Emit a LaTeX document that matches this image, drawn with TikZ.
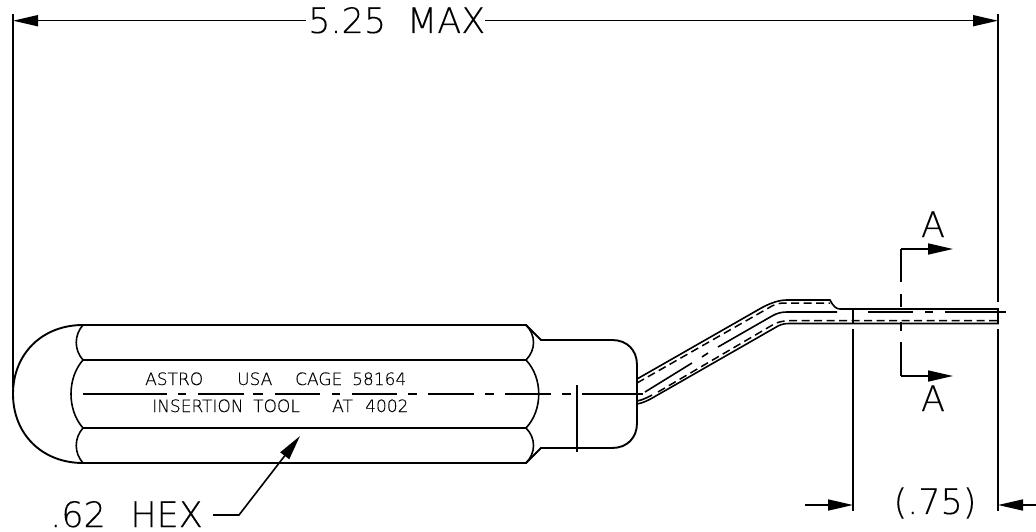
\documentclass[tikz,border=0pt]{standalone}
\usepackage{fontspec}
\setmainfont[FakeBold=0.25]{DejaVu Sans ExtraLight}
\newfontfamily\cadbig[FakeBold=0.2]{DejaVu Sans ExtraLight}
\usetikzlibrary{arrows.meta}
\tikzset{
  obj/.style={line width=1.9pt,black},
  thin obj/.style={line width=1.6pt,black},
  hid/.style={line width=1.5pt,black,dash pattern=on 8pt off 4.5pt},
  dim/.style={line width=1.6pt,black,{Triangle[length=25pt,width=11pt]}-},
  big/.style={inner sep=0pt,font=\cadbig\fontsize{35}{36}\selectfont},
  small/.style={inner sep=0pt,font=\fontsize{17}{18}\selectfont},
}
\begin{document}
\begin{tikzpicture}[x=1pt,y=-1pt]
\useasboundingbox (0,0) rectangle (1036,532);
% Handle outline
\draw[obj] (83,325) -- (526,325) -- (541,340) -- (612,340)
  .. controls (627,340) and (637,350) .. (637,365) -- (637,423)
  .. controls (637,438) and (627,448) .. (612,448) -- (541,448) -- (526,463) -- (83,463)
  .. controls (42,463) and (13,434) .. (13,394)
  .. controls (13,354) and (42,325) .. (83,325);
\draw[obj] (83,360) -- (526,360) (83,428) -- (526,428);
\foreach \a/\b/\c in {325/342.5/360,428/445.5/463}{
  \draw[thin obj] (83,\a) .. controls (74,\a+10) and (74,\c-10) .. (83,\c);
  \draw[thin obj] (526,\a) .. controls (536,\a+10) and (536,\c-10) .. (526,\c);
}
\draw[thin obj] (83,360) .. controls (67,378) and (67,410) .. (83,428);
\draw[thin obj] (526,360) .. controls (543,378) and (543,410) .. (526,428);
\draw[thin obj] (577,385) -- (577,452);
% Centre line
\foreach \a/\b in {83/167,178/186,198/244,253/263,275/320,332/340,352/397,408/417,428/474,485/494,505/551,562/571,582/643}{
  \draw[thin obj] (\a,394) -- (\b,394);
}
% Neck solids
\draw[thin obj] (637,379) -- (763,307) .. controls (771,303) and (779,300) .. (787,300) -- (830,300)
  .. controls (833,306) and (836,309) .. (840,309) -- (998,309) -- (998,323.5) -- (790,323.5)
  .. controls (785,323.5) and (782,324) .. (778,326) -- (654,397) .. controls (649,400) and (643,403) .. (637,404);
\draw[thin obj] (637,401) .. controls (643,400) and (648,397) .. (652,395);
% Neck centre
\draw[thin obj] (645,392) -- (692,363) (702,357) -- (708,353) (718,347) -- (772,316)
  .. controls (777,313) and (782,312) .. (787,312) -- (837,312);
\draw[thin obj] (868,312) -- (913,312) (925,312) -- (933,312) (945,312) -- (1006,312);
% Neck hidden
\draw[hid] (637,383) -- (772,306) .. controls (776,304) and (780,303) .. (784,303) -- (830,303);
\draw[hid] (658,392) -- (775,323.5) .. controls (780,321.5) and (785,320.7) .. (790,320.7) -- (998,320.7);
% Shoulder tick
\draw[line width=2.2pt] (853,309) -- (853,323.5);
% Section line
\draw[thin obj] (901,282) -- (901,249);
\draw[dim] (953,249) -- (901,249);
\draw[thin obj] (901,294) -- (901,307) (901,322) -- (901,331);
\draw[thin obj] (901,342) -- (901,376);
\draw[dim] (953,376) -- (901,376);
\node[big,anchor=base] (secA) at (933,237) {A};
\node[big,anchor=base] (secB) at (933,411) {A};
% Extension lines
\draw[thin obj] (13,14) -- (13,388);
\draw[thin obj] (998,14) -- (998,302);
\draw[thin obj] (998,329) -- (998,511);
\draw[thin obj] (853,329) -- (853,511);
% Top dimension
\node[big,anchor=base west] (top) at (308,33) {5.25\hspace{0.6em}MAX};
\coordinate (tl) at (13,20.7);
\coordinate (tr) at (998,20.7);
\coordinate (tla) at (306,20.7);
\coordinate (tra) at (485,20.7);
\draw[dim] (tl) -- (tla);
\draw[dim] (tr) -- (tra);
% Bottom dimension
\node[big] (ext) at (935,503) {(.75)};
\coordinate (el) at (853,505);
\coordinate (er) at (998,505);
\coordinate (eL) at (805,505);
\coordinate (eR) at (1036,505);
\draw[dim] (el) -- (eL);
\draw[dim] (er) -- (eR);
% Hex leader
\node[big,anchor=base west] (hex) at (50,527) {.62\hspace{0.7em}HEX};
\coordinate (ht) at (300,436);
\coordinate (hm) at (239,515);
\coordinate (hs) at (213,515);
\draw[line width=1.6pt,black,{Triangle[length=25pt,width=11pt]}-] (ht) -- (hm) -- (hs);
% Handle text
\node[small,anchor=base west] (t1) at (145,385) {ASTRO};
\node[small,anchor=base west] (t2) at (237,385) {USA};
\node[small,anchor=base west] (t3) at (295,385) {CAGE};
\node[small,anchor=base west] (t4) at (352,385) {58164};
\node[small,anchor=base west] (t5) at (152,412) {INSERTION};
\node[small,anchor=base west] (t6) at (253,412) {TOOL};
\node[small,anchor=base west] (t7) at (332,412) {AT};
\node[small,anchor=base west] (t8) at (365,412) {4002};
\end{tikzpicture}
\end{document}
